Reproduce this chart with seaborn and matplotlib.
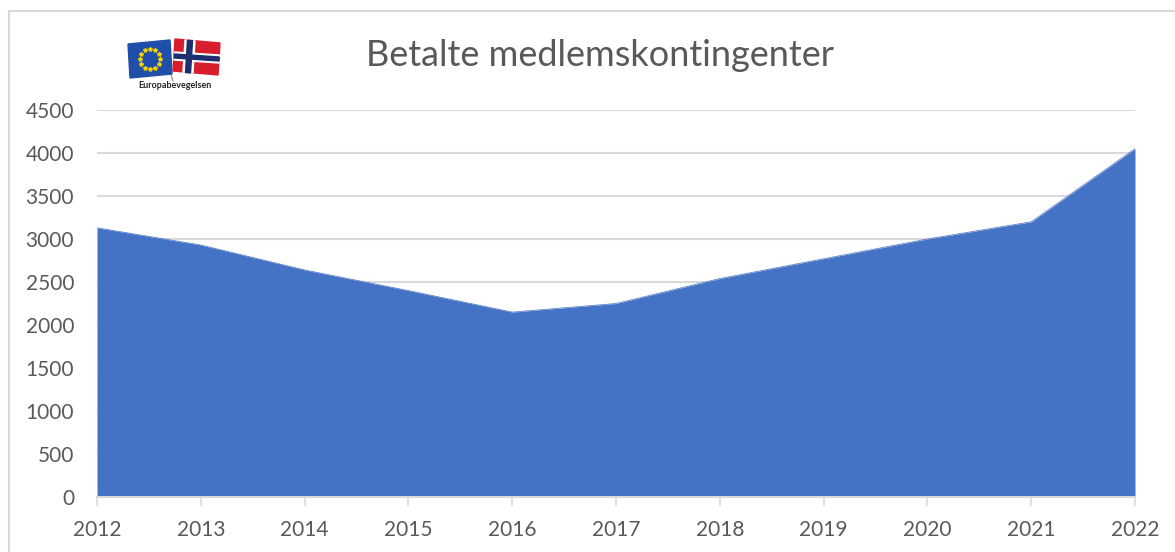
import matplotlib
matplotlib.use("Agg")
import matplotlib.pyplot as plt
import seaborn as sns
import pandas as pd
import numpy as np
from matplotlib.patches import Polygon
from matplotlib.lines import Line2D

years = [2012, 2013, 2014, 2015, 2016, 2017, 2018, 2019, 2020, 2021, 2022]
members = [3130, 2930, 2640, 2400, 2150, 2250, 2540, 2770, 3000, 3200, 4050]
yticks = [0, 500, 1000, 1500, 2000, 2500, 3000, 3500, 4000, 4500]
title = "Betalte medlemskontingenter"
logo_text = "Europabevegelsen"

df = pd.DataFrame({"year": years, "members": members})

sns.set_theme(style="white")
plt.rcParams["font.family"] = ["Lato", "DejaVu Sans"]

W, H = 1175, 552
fig = plt.figure(figsize=(W / 100, H / 100), dpi=100)
fig.patch.set_facecolor("white")

ax = fig.add_axes([97 / W, 1 - 497 / H, (1135 - 97) / W, (497 - 110) / H])
color = "#4472C4"
ax.fill_between(df["year"], 0, df["members"], color=color, linewidth=0, zorder=2)
sns.lineplot(data=df, x="year", y="members", ax=ax, color=color, linewidth=0.5, zorder=3)

ax.set_xlim(2012, 2022)
ax.set_ylim(0, 4500)
ax.set_yticks(yticks)
ax.set_xticks(years)
ax.set_xticklabels([str(y) for y in years])
ax.yaxis.grid(True, color="#d9d9d9", linewidth=1.5, zorder=0)
ax.xaxis.grid(False)
ax.set_axisbelow(True)
for s in ["top", "right", "left"]:
    ax.spines[s].set_visible(False)
ax.spines["bottom"].set_color("#d9d9d9")
ax.spines["bottom"].set_linewidth(1.5)
ax.spines["bottom"].set_zorder(4)
ax.tick_params(axis="x", which="major", length=6.5, width=1.2, color="#d9d9d9",
               direction="out", bottom=True, pad=10, labelsize=15, labelcolor="#595959")
ax.tick_params(axis="y", length=0, pad=16.5, labelsize=15, labelcolor="#595959")
ax.set_xlabel("")
ax.set_ylabel("")

fig.text(600 / W, 1 - 55 / H, title, ha="center", va="center", fontsize=26,
         fontweight="normal", color="#595959")

# outer chart border (only top/left visible)
fig.add_artist(Line2D([8.5 / W, 1.0], [1 - 11 / H, 1 - 11 / H], color="#d9d9d9", linewidth=1.5))
fig.add_artist(Line2D([8.5 / W, 8.5 / W], [1 - 11 / H, 0], color="#d9d9d9", linewidth=1.5))

# logo
lax = fig.add_axes([125 / W, 1 - 93 / H, 100 / W, 60 / H])
lax.set_xlim(0, 100)
lax.set_ylim(60, 0)
lax.axis("off")
# EU flag
lax.add_patch(Polygon([[3, 11], [45, 7], [47, 41], [5, 45]], closed=True, color="#1f4fa8"))
cx, cy, r = 25, 26, 10
for a in np.linspace(0, 2 * np.pi, 12, endpoint=False):
    lax.plot(cx + r * np.cos(a), cy + r * np.sin(a), marker="*", color="#f5d000", markersize=3.0)
# Norwegian flag
lax.add_patch(Polygon([[50, 6], [95, 10], [93, 42], [48, 38]], closed=True, color="#d81e2c"))
lax.add_patch(Polygon([[60, 7], [70, 8], [68, 40], [58, 39]], closed=True, color="white"))
lax.add_patch(Polygon([[49.5, 19], [94.5, 22], [94, 30], [49, 27]], closed=True, color="white"))
lax.add_patch(Polygon([[62.5, 7.3], [67.5, 7.8], [65.5, 40], [60.5, 39.5]], closed=True, color="#1d2f6e"))
lax.add_patch(Polygon([[49.3, 21], [94.3, 24], [94.1, 28], [49.2, 25]], closed=True, color="#1d2f6e"))
lax.plot([46, 48], [42, 48], color="#888888", linewidth=0.8)
lax.text(50, 53, logo_text, ha="center", va="center", fontsize=6.5, fontweight="bold", color="#222222")

fig.savefig("out.png", dpi=100, facecolor="white")
